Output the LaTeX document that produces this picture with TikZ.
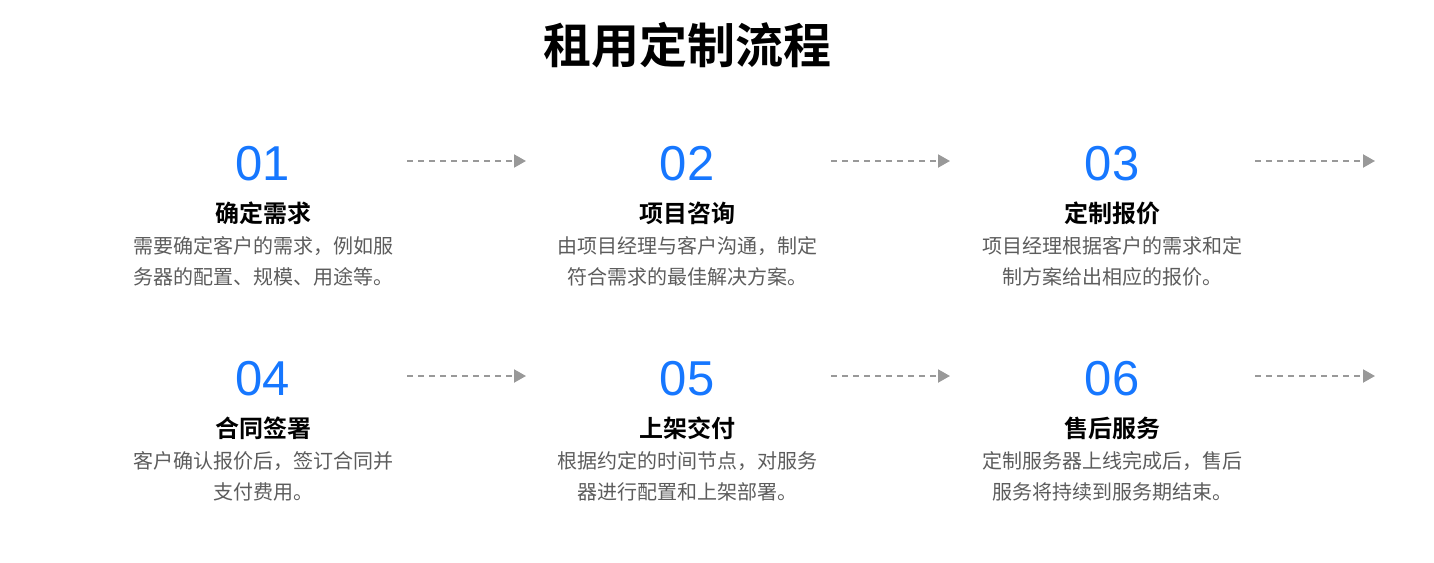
\documentclass[tikz,border=0pt]{standalone}
\usepackage{fontspec}
\setmainfont{Noto Sans CJK SC}[BoldFont={Noto Sans CJK SC Bold}]
\newfontfamily\numfont{Liberation Sans}
\usetikzlibrary{arrows.meta}
\definecolor{numblue}{HTML}{1677FF}
\definecolor{descgray}{HTML}{5C5C5C}
\definecolor{arrowgray}{HTML}{999999}
\tikzset{
  maintitle/.style={anchor=base,inner sep=0pt,font=\fontsize{48}{48}\selectfont\bfseries,text=black},
  numtxt/.style={anchor=base,inner sep=0pt,font=\fontsize{49}{49}\selectfont\numfont,text=numblue},
  steptitle/.style={anchor=base,inner sep=0pt,font=\fontsize{24}{24}\selectfont\bfseries,text=black},
  desctxt/.style={anchor=base,inner sep=0pt,font=\fontsize{20}{20}\selectfont,text=descgray},
  flowarrow/.style={draw=arrowgray,line width=2pt,dash pattern=on 6pt off 5pt,-{Triangle[length=12pt,width=13pt]}}
}
\begin{document}
\begin{tikzpicture}[x=1pt,y=-1pt]
\useasboundingbox (0,0) rectangle (1434,562);
\node[maintitle] (title) at (687,63.5) {租用定制流程};
% row 1
\node[numtxt] (n1) at (263,180.5) {01};
\node[steptitle] (t1) at (263,222) {确定需求};
\node[desctxt] (d1a) at (263,253.6) {需要确定客户的需求，例如服};
\node[desctxt] (d1b) at (263,284.6) {务器的配置、规模、用途等。};
\node[numtxt] (n2) at (687,180.5) {02};
\node[steptitle] (t2) at (687,222) {项目咨询};
\node[desctxt] (d2a) at (687,253.6) {由项目经理与客户沟通，制定};
\node[desctxt] (d2b) at (687,284.6) {符合需求的最佳解决方案。};
\node[numtxt] (n3) at (1112,180.5) {03};
\node[steptitle] (t3) at (1112,222) {定制报价};
\node[desctxt] (d3a) at (1112,253.6) {项目经理根据客户的需求和定};
\node[desctxt] (d3b) at (1112,284.6) {制方案给出相应的报价。};
% row 2
\node[numtxt] (n4) at (263,395.5) {04};
\node[steptitle] (t4) at (263,437) {合同签署};
\node[desctxt] (d4a) at (263,468.6) {客户确认报价后，签订合同并};
\node[desctxt] (d4b) at (263,499.6) {支付费用。};
\node[numtxt] (n5) at (687,395.5) {05};
\node[steptitle] (t5) at (687,437) {上架交付};
\node[desctxt] (d5a) at (687,468.6) {根据约定的时间节点，对服务};
\node[desctxt] (d5b) at (687,499.6) {器进行配置和上架部署。};
\node[numtxt] (n6) at (1112,395.5) {06};
\node[steptitle] (t6) at (1112,437) {售后服务};
\node[desctxt] (d6a) at (1112,468.6) {定制服务器上线完成后，售后};
\node[desctxt] (d6b) at (1112,499.6) {服务将持续到服务期结束。};
% arrows
\coordinate (a1s) at (407,161); \coordinate (a1e) at (526,161);
\coordinate (a2s) at (831,161); \coordinate (a2e) at (950,161);
\coordinate (a3s) at (1255,161); \coordinate (a3e) at (1375,161);
\coordinate (a4s) at (407,376); \coordinate (a4e) at (526,376);
\coordinate (a5s) at (831,376); \coordinate (a5e) at (950,376);
\coordinate (a6s) at (1255,376); \coordinate (a6e) at (1375,376);
\foreach \i in {1,...,6} \draw[flowarrow] (a\i s) -- (a\i e);
\end{tikzpicture}
\end{document}
